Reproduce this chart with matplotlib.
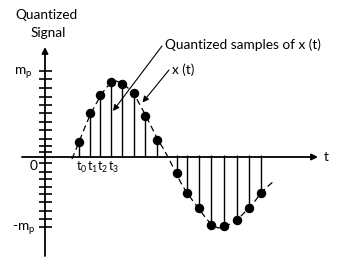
import numpy as np
import matplotlib
matplotlib.use("Agg")
import matplotlib.pyplot as plt

plt.rcParams['font.family'] = ['Lato', 'DejaVu Sans']
plt.rcParams['mathtext.fontset'] = 'custom'
plt.rcParams['mathtext.rm'] = 'Lato'
plt.rcParams['mathtext.it'] = 'Lato'

# sample instants and quantized values (px-like units, origin at axes cross)
pos_t = [34, 45, 55, 66, 77, 89, 100, 112]
pos_v = [15, 44, 62, 75, 73, 64, 41, 17]
neg_t = [132, 142, 154, 166, 179, 192, 204, 216]
neg_v = [-16, -36, -51, -68, -69, -63, -51, -36]

# analog signal x(t)
curve_t = [27, 34, 40, 46, 51, 56, 61, 66, 71, 77, 83, 89, 95, 101, 107, 113, 118,
           123, 131, 136, 142, 148, 154, 160, 166, 173, 179, 185, 192, 198, 204,
           210, 216, 222, 229]
curve_v = [-2, 15, 30, 44, 53, 62, 69, 74, 76, 74, 69, 63, 52, 41, 29, 17, 9,
           0, -16, -26, -36, -44, -52, -60, -67, -71, -70, -67, -63, -57, -51,
           -44, -36, -30, -24]

# tick marks on the vertical axis
yticks = [86, 78, 69, 60, 52, 44, 35, 27, 18, 11, 5,
          -6, -15, -22, -30, -37, -45, -54, -62, -70]
t_labels = ['$\\mathrm{t}_0$', '$\\mathrm{t}_1$', '$\\mathrm{t}_2$', '$\\mathrm{t}_3$']

fig = plt.figure(figsize=(3.44, 2.71), dpi=100)
ax = fig.add_axes([0, 0, 1, 1])
ax.set_xlim(-45, 299)
ax.set_ylim(-114, 157)
ax.axis('off')

# axes with arrows
ax.annotate('', xy=(273, 0), xytext=(-23, 0),
            arrowprops=dict(arrowstyle='-|>', color='black', lw=1.3, mutation_scale=9,
                            shrinkA=0, shrinkB=0))
ax.annotate('', xy=(0, 110), xytext=(0, -99),
            arrowprops=dict(arrowstyle='-|>', color='black', lw=1.3, mutation_scale=9,
                            shrinkA=0, shrinkB=0))
ax.hlines(yticks, -6, 7, color='black', lw=1.2)

# dashed analog signal
ax.plot(curve_t, curve_v, color='black', lw=0.9, dashes=(5, 3))

# quantized samples
ax.vlines(pos_t, 0, pos_v, color='black', lw=1.0)
ax.vlines(neg_t, neg_v, 2, color='black', lw=1.0)
ax.plot(pos_t + neg_t, pos_v + neg_v, 'o', color='black', ms=5.8)

# texts
fs = 9.8
ax.text(2, 142, 'Quantized', ha='center', va='center', fontsize=fs)
ax.text(3, 124, 'Signal', ha='center', va='center', fontsize=fs)
ax.text(-13, 84, '$\\mathrm{m}_\\mathrm{p}$', ha='right', va='center', fontsize=fs)
ax.text(-7, -9, '0', ha='right', va='center', fontsize=fs)
ax.text(-10, -72, '-$\\mathrm{m}_\\mathrm{p}$', ha='right', va='center', fontsize=fs)
ax.text(279, 0, 't', ha='left', va='center', fontsize=fs)
for t, lab in zip(pos_t, t_labels):
    ax.text(t + 2.5, -10, lab, ha='center', va='center', fontsize=9)

ax.text(120, 112, 'Quantized samples of x (t)', ha='left', va='center', fontsize=fs)
ax.text(127, 87, 'x (t)', ha='left', va='center', fontsize=fs)
ax.annotate('', xy=(68, 46), xytext=(117, 111),
            arrowprops=dict(arrowstyle='-|>', color='black', lw=0.8, mutation_scale=9,
                            shrinkA=0, shrinkB=0))
ax.annotate('', xy=(97.5, 54.5), xytext=(124, 87),
            arrowprops=dict(arrowstyle='-|>', color='black', lw=0.8, mutation_scale=9,
                            shrinkA=0, shrinkB=0))

fig.savefig('out.png', dpi=100)
